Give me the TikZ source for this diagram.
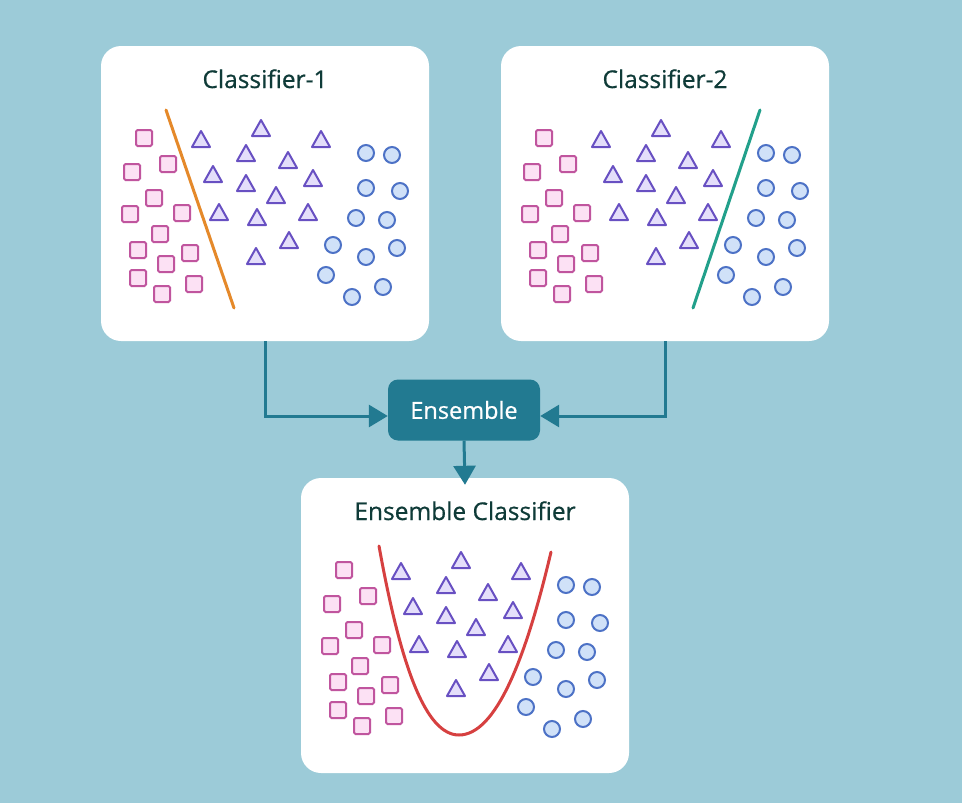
\documentclass[tikz,border=0pt]{standalone}
\usepackage{fontspec}
\setmainfont{Open Sans}
\newfontfamily\labelfont[FakeBold=0.6]{Open Sans}
\usepackage{tikz}
\usetikzlibrary{arrows.meta,positioning}
\definecolor{bgblue}{HTML}{9CCBD8}
\definecolor{ensteal}{HTML}{227A91}
\definecolor{titleink}{HTML}{0F3B38}
\definecolor{sqline}{HTML}{C0559E}
\definecolor{sqfill}{HTML}{FCE1F4}
\definecolor{triline}{HTML}{6850C2}
\definecolor{trifill}{HTML}{E4DEFA}
\definecolor{cirline}{HTML}{4D72C6}
\definecolor{cirfill}{HTML}{D0E1F8}
\definecolor{cutorange}{HTML}{E5892A}
\definecolor{cutteal}{HTML}{22A08B}
\definecolor{cutred}{HTML}{D64040}
\tikzset{>=stealth}
\tikzset{%
    panel/.style={fill=white, rounded corners=20pt, minimum width=328pt, minimum height=295pt, inner sep=0pt},
    paneltitle/.style={anchor=base, text=titleink, font=\labelfont\fontsize{24.5}{29}\selectfont},
    ensbox/.style={fill=ensteal, rounded corners=10pt, minimum width=152pt, minimum height=61pt, text=white, font=\labelfont\fontsize{23.5}{28}\selectfont},
    link/.style={draw=ensteal, line width=3pt, -{Triangle[length=19pt,width=22pt]}},
    sq/.style={draw=sqline, fill=sqfill, line width=2pt, rounded corners=1.5pt},
    tri/.style={draw=triline, fill=trifill, line width=2pt, line join=round},
    circ/.style={draw=cirline, fill=cirfill, line width=2pt},
    cut/.style={line width=3pt, line cap=round}
}
\newcommand{\drawdata}{%
    \foreach \x/\y in {43/92,31/126,67/118,53/152,29/168,81/167,59/188,37/204,89/207,65/218,37/232,61/248,93/238}
        \draw[sq] (\x-8,\y-8) rectangle (\x+8,\y+8);
    \foreach \x/\y in {100/94,160/83,220/94,145/108,187/115,112/129,145/138,212/133,175/150,118/167,156/172,207/167,188/195,155/211}
        \draw[tri] (\x-9,\y+7) -- (\x+9,\y+7) -- (\x,\y-9) -- cycle;
    \foreach \x/\y in {265/107,291/109,265/142,299/145,255/172,286/174,232/199,265/211,296/202,225/229,282/241,251/251}
        \draw[circ] (\x,\y) circle[radius=8pt];
}

\begin{document}
\begin{tikzpicture}[x=1pt,y=-1pt]
    \useasboundingbox (0,0) rectangle (962,803);
    \fill[bgblue] (0,0) rectangle (962,803);

    \node[panel] (c1) at (265,193.5) {};
    \node[panel] (c2) at (665,193.5) {};
    \node[panel] (ec) at (465,625.5) {};
    \node[ensbox] (ens) at (464,410) {Ensemble};

    \node[paneltitle] (t1) at (265,88) {Classifier-1};
    \node[paneltitle] (t2) at (665,88) {Classifier-2};
    \node[paneltitle] (t3) at (465,520) {Ensemble Classifier};

    \begin{scope}[shift={(101,46)}]
        \drawdata
        \draw[cut,cutorange] (65,64) -- (133,262);
    \end{scope}
    \begin{scope}[shift={(501,46)}]
        \drawdata
        \draw[cut,cutteal] (259,64) -- (192,262);
    \end{scope}
    \begin{scope}[shift={(301,478)}]
        \drawdata
        \draw[cut,cutred] (78,68) .. controls (100,190) and (125,257) .. (158,257)
            .. controls (195,257) and (225,180) .. (250,74);
    \end{scope}

    \draw[link] (c1.south) |- ([yshift=-6pt]ens.west);
    \draw[link] (c2.south) |- ([yshift=-6pt]ens.east);
    \draw[link] (ens.south) -- ([yshift=-7pt]ec.north);
\end{tikzpicture}
\end{document}
